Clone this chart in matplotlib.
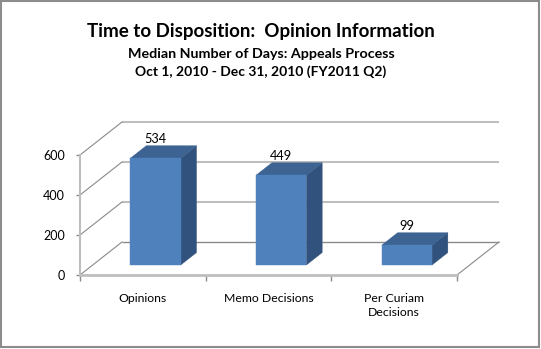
import matplotlib
matplotlib.use('Agg')
import matplotlib.pyplot as plt
from matplotlib.patches import Polygon, Rectangle

categories = ['Opinions', 'Memo Decisions', 'Per Curiam\nDecisions']
values = [534, 449, 99]
yticks = [0, 200, 400, 600]
title = 'Time to Disposition:  Opinion Information'
subtitle1 = 'Median Number of Days: Appeals Process'
subtitle2 = 'Oct 1, 2010 - Dec 31, 2010 (FY2011 Q2)'

FONT = 'Lato'
plt.rcParams['font.family'] = [FONT, 'DejaVu Sans']

W, H = 541, 349
fig = plt.figure(figsize=(W / 100, H / 100), dpi=100)
fig.patch.set_facecolor('white')

# front plane of the pseudo-3D chart
ax = fig.add_axes([80 / W, 74 / H, 377 / W, 120 / H])
ax.set_xlim(0, len(categories))
ax.set_ylim(0, 600)
ax.patch.set_visible(False)

DX, DY = 0.334, 165.0   # depth vector in data units


def P(x, y, z):
    return (x + z * DX, y + z * DY)


grid_light = '#BEBEBE'
grid_dark = '#8A8A8A'

# back wall gridlines and left-wall diagonals
for v in yticks:
    a, b = P(0, v, 1), P(len(categories), v, 1)
    ax.plot([a[0], b[0]], [a[1], b[1]], color=grid_dark if v == 0 else grid_light,
            lw=1.0 if v == 0 else 1.5, clip_on=False, zorder=1, solid_capstyle='butt')
    c = P(0, v, 0)
    ax.plot([c[0], a[0]], [c[1], a[1]], color=grid_dark, lw=0.8, clip_on=False, zorder=1)

# floor right edge
a, b = P(len(categories), 0, 0), P(len(categories), 0, 1)
ax.plot([a[0], b[0]], [a[1], b[1]], color=grid_dark, lw=0.8, clip_on=False, zorder=1)

# bars
front_c, side_c, top_c = '#4F81BD', '#31527C', '#3C6391'
z0, z1 = 0.303, 0.68
for i, v in enumerate(values):
    x0, x1 = i + 0.3, i + 0.7
    side = [P(x1, 0, z0), P(x1, 0, z1), P(x1, v, z1), P(x1, v, z0)]
    top = [P(x0, v, z0), P(x1, v, z0), P(x1, v, z1), P(x0, v, z1)]
    front = [P(x0, 0, z0), P(x1, 0, z0), P(x1, v, z0), P(x0, v, z0)]
    for pts, col in ((side, side_c), (top, top_c), (front, front_c)):
        ax.add_patch(Polygon(pts, closed=True, facecolor=col, edgecolor=col, lw=0.3,
                             clip_on=False, zorder=3))
    fx, fy = P(i + 0.5, v, z0)
    ax.annotate(str(v), (fx, fy), xytext=(0, 19), textcoords='offset pixels',
                ha='center', va='center', fontsize=9.2, color='black', zorder=5)

# axes styling
for s in ('top', 'right'):
    ax.spines[s].set_visible(False)
ax.spines['left'].set_color(grid_light)
ax.spines['left'].set_linewidth(1.5)
ax.spines['bottom'].set_color(grid_light)
ax.spines['bottom'].set_linewidth(2.0)
ax.spines['left'].set_zorder(2)
ax.spines['bottom'].set_zorder(2)

ax.set_yticks(yticks)
ax.set_yticklabels([str(t) for t in yticks])
ax.tick_params(axis='y', length=3, width=1, color=grid_dark, pad=8, labelsize=9)
ax.set_xticks(range(len(categories) + 1))
ax.set_xticklabels([])
ax.tick_params(axis='x', which='major', length=4, width=1, color=grid_dark)
ax.set_xticks([i + 0.5 for i in range(len(categories))], minor=True)
ax.set_xticklabels(categories, minor=True, fontsize=8.8, linespacing=1.3, va='top')
ax.tick_params(axis='x', which='minor', length=0, pad=13)

# titles
cx = 261 / W
fig.text(cx, 1 - 31.7 / H, title, ha='center', va='center', fontsize=13.5, fontweight='bold')
fig.text(cx, 1 - 54 / H, subtitle1, ha='center', va='center', fontsize=10.3, fontweight='bold')
fig.text(cx, 1 - 72 / H, subtitle2, ha='center', va='center', fontsize=10.0, fontweight='bold')

# outer border
fig.patches.append(Rectangle((0.8 / W, 2 / H), 538.5 / W, 346 / H, transform=fig.transFigure,
                             fill=False, edgecolor='#8C8C8C', lw=1.5))

fig.savefig('out.png', dpi=100)
